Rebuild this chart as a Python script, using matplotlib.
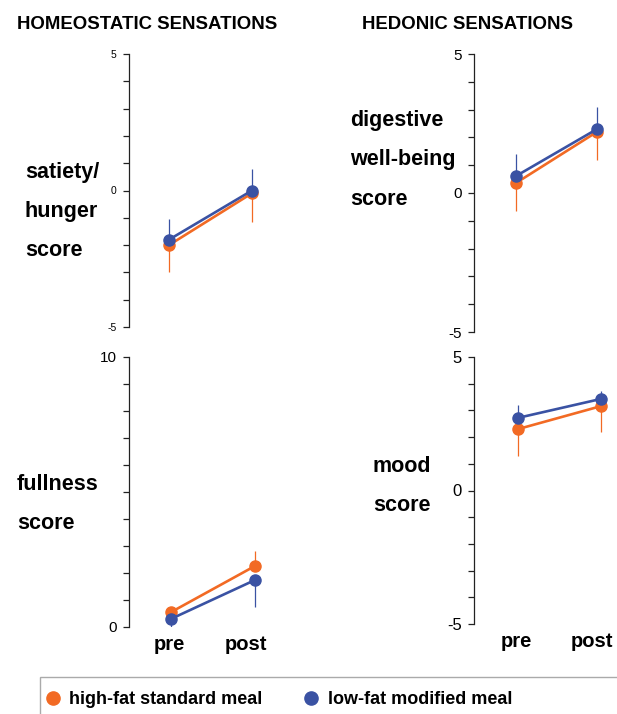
import matplotlib
matplotlib.use("Agg")
import matplotlib.pyplot as plt
from matplotlib.ticker import MultipleLocator, FixedLocator
from matplotlib.lines import Line2D
from matplotlib.patches import Rectangle
from matplotlib.transforms import ScaledTranslation

plt.rcParams['font.family'] = ['Liberation Sans', 'DejaVu Sans']
plt.rcParams['axes.unicode_minus'] = False

# ---------------- data ----------------
timepoints = ["pre", "post"]
series_names = ["high-fat standard meal", "low-fat modified meal"]

# satiety / hunger score
satiety_high = [-2.0, -0.1]
satiety_high_err_low = [1.0, 1.05]
satiety_low = [-1.8, 0.0]
satiety_low_err_up = [0.77, 0.8]

# fullness score
fullness_high = [0.55, 2.26]
fullness_high_err_up = [0.15, 0.55]
fullness_low = [0.3, 1.74]
fullness_low_err_low = [0.3, 1.0]

# digestive well-being score
digestive_high = [0.36, 2.2]
digestive_high_err_low = [1.0, 1.0]
digestive_low = [0.61, 2.3]
digestive_low_err_up = [0.8, 0.8]

# mood score
mood_high = [2.3, 3.16]
mood_high_err_low = [1.0, 0.97]
mood_low = [2.72, 3.43]
mood_low_err_up = [0.48, 0.3]

ORANGE = "#F26A24"
BLUE = "#3A52A3"

W, H = 617, 714
fig = plt.figure(figsize=(W / 100, H / 100), dpi=100)


def rect(x0, y_top, w, y_bot):
    return [x0 / W, 1 - y_bot / H, w / W, (y_bot - y_top) / H]


def make_panel(r, pre_off, post_off, width, ylim, major, tick_fs,
               high, high_err, low, low_err, high_dir, show_x):
    ax = fig.add_axes(r)
    scale = post_off - pre_off
    left = 1 - pre_off / scale
    ax.set_xlim(left, left + width / scale)
    ax.set_ylim(*ylim)
    x = [1, 2]
    z = [0, 0]
    if high_dir == "down":
        he = [high_err, z]
        le = [z, low_err]
    else:
        he = [z, high_err]
        le = [low_err, z]
    ax.errorbar(x, high, yerr=he, color=ORANGE, lw=1.9, marker='o', ms=8,
                elinewidth=0.9, capsize=0, zorder=3)
    ax.errorbar(x, low, yerr=le, color=BLUE, lw=1.9, marker='o', ms=8,
                elinewidth=0.9, capsize=0, zorder=4)
    for s in ["top", "right", "bottom"]:
        ax.spines[s].set_visible(False)
    ax.spines["left"].set_color("#222222")
    ax.spines["left"].set_linewidth(0.9)
    ax.yaxis.set_major_locator(FixedLocator(major))
    ax.yaxis.set_minor_locator(MultipleLocator(1))
    ax.tick_params(axis='y', which='both', direction='out', length=4,
                   width=0.9, color="#222222", labelsize=tick_fs, pad=5)
    ax.set_xticks(x)
    if show_x:
        ax.set_xticklabels(timepoints, fontsize=14.5, fontweight='bold')
        ax.tick_params(axis='x', length=0, pad=5.5)
        lbl = ax.get_xticklabels()[1]
        lbl.set_transform(lbl.get_transform() +
                          ScaledTranslation(-9 / 100, 0, fig.dpi_scale_trans))
        lbl0 = ax.get_xticklabels()[0]
        lbl0.set_transform(lbl0.get_transform() +
                           ScaledTranslation(-2 / 100, 0, fig.dpi_scale_trans))
    else:
        ax.set_xticklabels([])
        ax.tick_params(axis='x', length=0)
    ax.patch.set_alpha(0)
    return ax


make_panel(rect(129, 54, 170, 327), 40, 123, 170, (-5, 5), [-5, 0, 5], 7.5,
           satiety_high, satiety_high_err_low, satiety_low, satiety_low_err_up,
           "down", False)
make_panel(rect(129, 357, 170, 627), 42, 126, 170, (0, 10), [0, 10], 11,
           fullness_high, fullness_high_err_up, fullness_low, fullness_low_err_low,
           "up", True)
make_panel(rect(474, 54, 140, 332), 42, 123, 140, (-5, 5), [-5, 0, 5], 11,
           digestive_high, digestive_high_err_low, digestive_low, digestive_low_err_up,
           "down", False)
make_panel(rect(474, 357, 140, 624), 44, 127, 140, (-5, 5), [-5, 0, 5], 12,
           mood_high, mood_high_err_low, mood_low, mood_low_err_up,
           "down", True)


def ftext(x, y, s, size):
    fig.text(x / W, 1 - y / H, s, fontsize=size, fontweight='bold',
             ha='left', va='baseline')


def label_lines(x, y0, lines, size=15.5, step=39):
    for i, s in enumerate(lines):
        ftext(x, y0 + i * step, s, size)


ftext(17, 29, "HOMEOSTATIC SENSATIONS", 13.4)
ftext(362, 29, "HEDONIC SENSATIONS", 13.4)
label_lines(25, 178, ["satiety/", "hunger", "score"])
label_lines(350, 126, ["digestive", "well-being", "score"], step=39.5)
label_lines(17, 490, ["fullness", "score"])
label_lines(373, 472, ["mood", "score"])

# legend frame
fig.patches.append(Rectangle((40 / W, -0.05), 1.0, 1 - 677 / H + 0.05,
                             transform=fig.transFigure, fill=False,
                             edgecolor="#AAAAAA", lw=1.0))
handles = [Line2D([], [], ls='none', marker='o', ms=9.5, color=ORANGE),
           Line2D([], [], ls='none', marker='o', ms=9.5, color=BLUE)]
fig.legend(handles, series_names, loc='center left',
           bbox_to_anchor=(46 / W, 1 - 700 / H), ncol=2, frameon=False,
           borderpad=0, borderaxespad=0, handlelength=0.8, handletextpad=0.5,
           columnspacing=2.3, prop={'weight': 'bold', 'size': 13})

fig.savefig("out.png", dpi=100)
